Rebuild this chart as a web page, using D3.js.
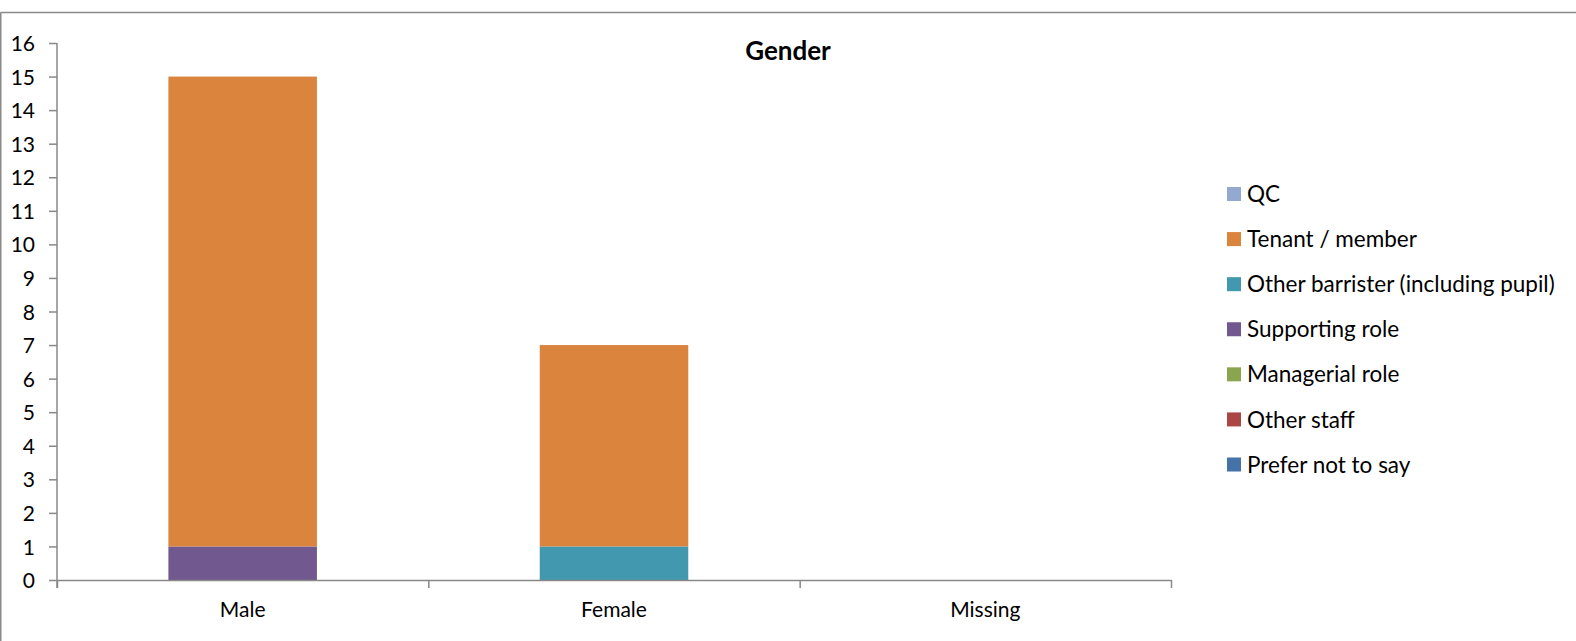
<!DOCTYPE html>
<html>
<head>
<meta charset="utf-8">
<script src="https://cdn.jsdelivr.net/npm/d3@7"></script>
<style>
  html, body { margin: 0; padding: 0; background: #ffffff; }
  svg { display: block; }
  text { font-family: Lato, "Liberation Sans", sans-serif; fill: #000; }
</style>
</head>
<body>
<svg id="chart" width="1576" height="641"></svg>
<script>
// ---- data ----
const categories = ["Male", "Female", "Missing"];
// series in stacking order (bottom to top)
const seriesNames = ["Prefer not to say", "Other staff", "Managerial role", "Supporting role",
                     "Other barrister (including pupil)", "Tenant / member", "QC"];
const seriesColors = ["#4572A7", "#AA4643", "#89A54E", "#71588F", "#4198AF", "#DB843D", "#93A9CF"];
const preferNotToSay = [0, 0, 0];
const otherStaff     = [0, 0, 0];
const managerialRole = [0, 0, 0];
const supportingRole = [1, 0, 0];
const otherBarrister = [0, 1, 0];
const tenantMember   = [14, 6, 0];
const qc             = [0, 0, 0];
const yTicks = [0,1,2,3,4,5,6,7,8,9,10,11,12,13,14,15,16];
const chartTitle = "Gender";

(function () {
const seriesValues = [preferNotToSay, otherStaff, managerialRole, supportingRole, otherBarrister, tenantMember, qc];
const table = categories.map((c, i) => {
  const row = { category: c };
  seriesNames.forEach((s, j) => row[s] = seriesValues[j][i]);
  return row;
});

const svg = d3.select("#chart");
const axisColor = "#898989";

// chart-area border (top & left visible)
svg.append("line").attr("x1", 0.5).attr("x2", 1576).attr("y1", 12.5).attr("y2", 12.5)
  .attr("stroke", axisColor).attr("stroke-width", 1.5);
svg.append("line").attr("x1", 0.75).attr("x2", 0.75).attr("y1", 12.5).attr("y2", 641)
  .attr("stroke", axisColor).attr("stroke-width", 1.5);

const pL = 57, pR = 1171, pT = 43, pB = 580;

const x = d3.scaleBand().domain(categories).range([pL, pR]).paddingInner(0.6).paddingOuter(0.3);
const y = d3.scaleLinear().domain([0, 16]).range([pB, pT]);

const stacked = d3.stack().keys(seriesNames)(table);

// bars
const g = svg.append("g");
stacked.forEach((layer, j) => {
  g.selectAll(null).data(layer.filter(d => d[1] - d[0] > 0)).enter().append("rect")
    .attr("x", d => x(d.data.category))
    .attr("width", x.bandwidth())
    .attr("y", d => y(d[1]))
    .attr("height", d => y(d[0]) - y(d[1]))
    .attr("fill", seriesColors[j]);
});

// y axis
const yAxis = svg.append("g").attr("transform", `translate(${pL},0)`)
  .call(d3.axisLeft(y).tickValues(yTicks).tickFormat(d3.format("d")).tickSize(8).tickPadding(14));
yAxis.select(".domain").attr("stroke", axisColor).attr("stroke-width", 1.5)
  .attr("d", `M0,${pT}V${pB + 8}`);
yAxis.selectAll(".tick line").attr("stroke", axisColor).attr("stroke-width", 1.5);
yAxis.selectAll(".tick text").style("font-size", "21px").attr("dy", "0.36em");

// x axis: boundary ticks
const xb = d3.scaleLinear().domain([0, categories.length]).range([pL, pR]);
const xAxisB = svg.append("g").attr("transform", `translate(0,${pB})`)
  .call(d3.axisBottom(xb).tickValues(d3.range(categories.length + 1)).tickFormat("").tickSize(8).tickSizeOuter(0));
xAxisB.select(".domain").attr("stroke", axisColor).attr("stroke-width", 1.5);
xAxisB.selectAll(".tick line").attr("stroke", axisColor).attr("stroke-width", 1.5);

// x axis labels
const xAxisL = svg.append("g").attr("transform", `translate(0,${pB})`)
  .call(d3.axisBottom(x).tickSize(0).tickPadding(22));
xAxisL.select(".domain").remove();
xAxisL.selectAll(".tick text").style("font-size", "21px");

// title
svg.append("text").attr("x", 788).attr("y", 60).attr("text-anchor", "middle")
  .style("font-size", "26px").style("font-weight", "bold").text(chartTitle);

// legend (reverse order: top of stack first)
const legendItems = seriesNames.map((s, j) => ({ name: s, color: seriesColors[j] })).reverse();
const lg = svg.append("g");
const ly = d3.scalePoint().domain(legendItems.map(d => d.name)).range([194, 464.5]);
legendItems.forEach(d => {
  lg.append("rect").attr("x", 1227).attr("y", ly(d.name) - 7).attr("width", 14).attr("height", 14).attr("fill", d.color);
  lg.append("text").attr("x", 1247).attr("y", ly(d.name)).attr("dy", "0.36em")
    .style("font-size", "22.5px").text(d.name);
});
})();
</script>
</body>
</html>
